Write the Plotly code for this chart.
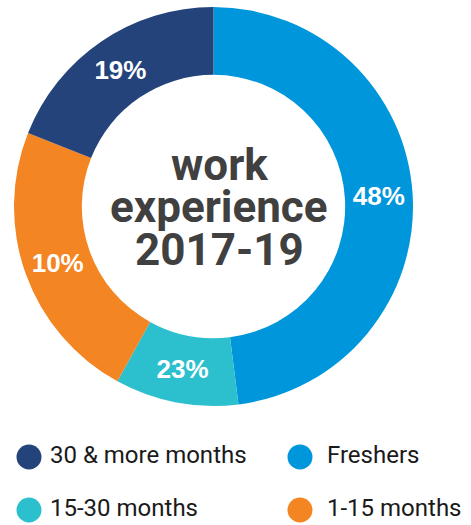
import plotly.graph_objects as go

# ---- data ----
categories = ["Freshers", "15-30 months", "1-15 months", "30 & more months"]
slice_values = [48, 10, 23, 19]            # slice sizes as drawn
slice_labels = ["48%", "23%", "10%", "19%"]  # labels as printed on the chart
colors = ["#0096DB", "#2CC0CF", "#F38522", "#23437A"]

legend_order = ["30 & more months", "Freshers", "15-30 months", "1-15 months"]
center_lines = ["work", "experience", "2017-19"]

W, H = 471, 525

fig = go.Figure()

fig.add_trace(go.Pie(
    labels=categories,
    values=slice_values,
    text=slice_labels,
    textinfo="text",
    textposition="inside",
    insidetextorientation="horizontal",
    textfont=dict(family="Liberation Sans", size=26, color="white", weight="bold"),
    marker=dict(colors=colors, line=dict(width=0)),
    hole=0.66,
    sort=False,
    direction="clockwise",
    rotation=0,
    showlegend=False,
    hoverinfo="label+text",
    domain=dict(x=[14 / W, 413 / W], y=[1 - 406 / H, 1 - 7 / H]),
))

# ---- custom legend (circle symbols) ----
col_x = [29, 300]
text_dx = [21, 27]
row_y = [457, 510]
lx, ly, tx, ty, lc, lt = [], [], [], [], [], []
for i, name in enumerate(legend_order):
    c, r = i % 2, i // 2
    lx.append(col_x[c]); ly.append(row_y[r])
    tx.append(col_x[c] + text_dx[c]); ty.append(row_y[r])
    lc.append(colors[categories.index(name)])
    lt.append(name)

fig.add_trace(go.Scatter(
    x=lx, y=ly, mode="markers",
    marker=dict(size=25, color=lc, line=dict(width=0)),
    showlegend=False, hoverinfo="skip",
))
fig.add_trace(go.Scatter(
    x=tx, y=ty, mode="text", text=lt, textposition="middle right",
    textfont=dict(family="Roboto", size=24, color="#1a1a1a"),
    showlegend=False, hoverinfo="skip",
))

# ---- center title ----
center_y = [165, 207, 250]
for line, yy in zip(center_lines, center_y):
    fig.add_annotation(
        x=219 / W, y=1 - yy / H, xref="paper", yref="paper",
        text=line, showarrow=False, xanchor="center", yanchor="middle",
        font=dict(family="Roboto", size=44, color="#404040", weight="bold"),
    )

fig.update_layout(
    width=W, height=H,
    margin=dict(l=0, r=0, t=0, b=0),
    paper_bgcolor="white", plot_bgcolor="rgba(0,0,0,0)",
    xaxis=dict(range=[0, W], visible=False, domain=[0, 1], fixedrange=True),
    yaxis=dict(range=[H, 0], visible=False, domain=[0, 1], fixedrange=True),
)

fig.write_html(
    "out.html",
    config=dict(displayModeBar=False),
    post_script="document.body.style.margin='0';document.body.style.overflow='hidden';",
)
